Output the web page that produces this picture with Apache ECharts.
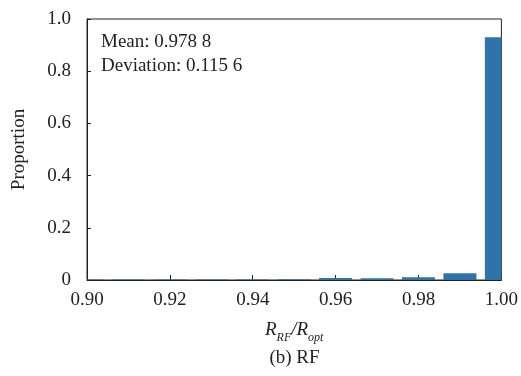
<!DOCTYPE html>
<html>
<head>
<meta charset="utf-8">
<script src="https://cdn.jsdelivr.net/npm/echarts@6/dist/echarts.min.js"></script>
<style>
  html, body { margin: 0; padding: 0; background: #fff; }
  #chart { width: 521px; height: 376px; }
</style>
</head>
<body>
<div id="chart"></div>
<script>
// bin centres (R_RF / R_opt) and proportion per bin
const binCenters = [0.90, 0.91, 0.92, 0.93, 0.94, 0.95, 0.96, 0.97, 0.98, 0.99, 1.00];
const proportions = [0.002, 0.002, 0.002, 0.002, 0.002, 0.003, 0.008, 0.007, 0.011, 0.026, 0.93];
const statLines = ['Mean: 0.978 8', 'Deviation: 0.115 6'];
const caption = '(b) RF';

const serif = '"Liberation Serif", "Times New Roman", serif';
const barColor = '#2f73ab';
const chart = echarts.init(document.getElementById('chart'));

// bars centred on each bin, clipped to the plot box (edge bins show half)
const renderBar = (params, api) => {
    const c = api.value(0), v = api.value(1);
    const base = api.coord([c, 0]);
    const top = api.coord([c, v]);
    const w = 33;
    const cs = params.coordSys;
    const shape = echarts.graphic.clipRectByRect(
        { x: base[0] - w / 2, y: top[1], width: w, height: base[1] - top[1] },
        { x: cs.x, y: cs.y, width: cs.width, height: cs.height }
    );
    return shape && { type: 'rect', shape: shape, style: { fill: barColor } };
};

chart.setOption({
    animation: false,
    textStyle: { fontFamily: serif },
    grid: {
        left: 87, right: 19, top: 19, bottom: 96,
        show: true,
        borderColor: '#222',
        borderWidth: 1
    },
    xAxis: {
        type: 'value',
        min: 0.9,
        max: 1.0,
        interval: 0.02,
        axisLine: { show: true, lineStyle: { color: '#222', width: 1 } },
        axisTick: { show: true, inside: true, length: 5, lineStyle: { color: '#222' } },
        splitLine: { show: false },
        axisLabel: {
            color: '#222', fontSize: 19, fontFamily: serif, margin: 11,
            formatter: v => v.toFixed(2)
        },
        name: '{i|R}{s|RF}{i|/R}{s|opt}',
        nameLocation: 'middle',
        nameGap: 37,
        nameTextStyle: {
            rich: {
                i: { fontFamily: serif, fontStyle: 'italic', fontSize: 19, color: '#222', lineHeight: 22, verticalAlign: 'bottom' },
                s: { fontFamily: serif, fontStyle: 'italic', fontSize: 12, color: '#222', lineHeight: 22, verticalAlign: 'bottom', padding: [0, 0, -5, 0] }
            }
        }
    },
    yAxis: {
        type: 'value',
        min: 0,
        max: 1.0,
        interval: 0.2,
        axisLine: { show: true, lineStyle: { color: '#222', width: 1 } },
        axisTick: { show: true, inside: true, length: 4, lineStyle: { color: '#222' } },
        splitLine: { show: false },
        axisLabel: {
            color: '#222', fontSize: 19, fontFamily: serif, margin: 16,
            formatter: v => (v === 0 ? '0' : v.toFixed(1))
        },
        name: 'Proportion',
        nameLocation: 'middle',
        nameGap: 58,
        nameTextStyle: { color: '#222', fontSize: 19, fontFamily: serif }
    },
    series: [{
        type: 'custom',
        renderItem: renderBar,
        encode: { x: 0, y: 1 },
        data: binCenters.map((c, i) => [c, proportions[i]]),
        z: 1
    }],
    graphic: [
        {
            type: 'text', left: 101, top: 30,
            style: { text: statLines.join('\n'), font: '19px ' + serif, fill: '#222', lineHeight: 24 }
        },
        {
            type: 'text', x: 294.5, y: 349,
            style: { text: caption, font: '19px ' + serif, fill: '#222', align: 'center' }
        }
    ]
});
</script>
</body>
</html>
